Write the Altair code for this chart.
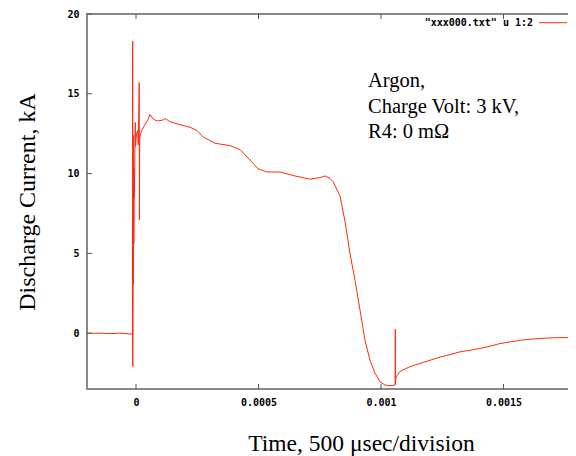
import altair as alt
import pandas as pd

# time in microseconds, current in kA
time_us = [-200, -146.9, -106.1, -65.3, -24.5, -13.9, -13.5, -13.1, -12.2, -11.0,
           -10.6, -9.4, -9.0, -7.3, -6.5, -4.1, -2.9, -1.6, 2.0, 6.9,
           9.4, 13.1, 13.9, 15.1, 20.4, 33.9, 47.8, 57.1, 65.3, 77.6,
           88.6, 109.0, 119.6, 138.8, 171.4, 220.4, 249.0, 273.5, 322.4, 383.7,
           424.5, 465.3, 498.0, 534.7, 587.8, 649.0, 710.2, 751.0, 771.4, 791.8,
           804.1, 832.7, 853.1, 873.5, 893.9, 914.3, 934.7, 955.1, 975.5, 995.9,
           1016.3, 1036.7, 1057.9, 1058.4, 1058.8, 1061.2, 1077.6, 1118.4, 1159.2, 1200.0,
           1240.8, 1281.6, 1322.4, 1363.3, 1404.1, 1444.9, 1485.7, 1526.5, 1567.3, 1608.2,
           1649.0, 1689.8, 1730.6, 1800]
current_ka = [-0.02, 0.0, -0.03, 0.0, -0.05, -0.05, 18.3, -2.1, 5.0, 12.4,
              3.1, 10.4, 5.6, 10.2, 8.5, 12.0, 13.2, 11.7, 12.5, 12.7,
              11.8, 15.7, 7.1, 12.2, 12.6, 13.0, 13.35, 13.7, 13.5, 13.35,
              13.3, 13.35, 13.45, 13.25, 13.1, 12.9, 12.7, 12.3, 11.9, 11.75,
              11.5, 10.85, 10.3, 10.1, 10.1, 9.85, 9.65, 9.75, 9.85, 9.7,
              9.5, 8.6, 7.0, 5.0, 3.3, 1.45, -0.45, -1.7, -2.5, -3.05,
              -3.25, -3.3, -3.25, 0.25, -3.2, -2.75, -2.4, -2.1, -1.9, -1.7,
              -1.5, -1.35, -1.17, -1.07, -0.96, -0.82, -0.65, -0.55, -0.45, -0.38,
              -0.33, -0.3, -0.28, -0.27]

x_ticks = [0, 0.0005, 0.001, 0.0015]
y_ticks = [0, 5, 10, 15, 20]
legend_label = '"xxx000.txt" u 1:2'
note_text = "Argon,\nCharge Volt: 3 kV,\nR4: 0 mΩ"

LINE_COLOR = "#ff2a10"
W, H = 490, 375
MONO = "DejaVu Sans Mono"
SERIF = "Liberation Serif"

df = pd.DataFrame({
    "t": [v * 1e-6 for v in time_us],
    "i": current_ka,
    "idx": list(range(len(time_us))),
})
xt = pd.DataFrame({"t": x_ticks})
yt = pd.DataFrame({"i": y_ticks})

xscale = alt.Scale(domain=[-0.0002, 0.0018], nice=False, zero=False)
yscale = alt.Scale(domain=[-3.5, 20], nice=False, zero=False)

line = alt.Chart(df).mark_line(color=LINE_COLOR, strokeWidth=1, clip=True).encode(
    x=alt.X("t:Q", scale=xscale,
            axis=alt.Axis(values=x_ticks, format=".4~f", ticks=False, domain=False,
                          grid=False, labelFont=MONO, labelFontWeight="bold",
                          labelFontSize=10, labelColor="#000", labelPadding=8,
                          title="Time, 500 μsec/division", titleFont=SERIF,
                          titleFontSize=23.5, titleFontWeight="normal", titleColor="#000",
                          titleX=274, titleY=61, titleBaseline="alphabetic",
                          titleAlign="center")),
    y=alt.Y("i:Q", scale=yscale,
            axis=alt.Axis(values=y_ticks, ticks=False, domain=False, grid=False,
                          labelFont=MONO, labelFontWeight="bold", labelFontSize=10,
                          labelColor="#000", labelPadding=8,
                          title="Discharge Current, kA", titleFont=SERIF,
                          titleFontSize=24, titleFontWeight="normal", titleColor="#000",
                          titlePadding=27)),
    order="idx:Q",
)

tick_style = dict(color="#555", strokeWidth=1)
bottom_ticks = alt.Chart(xt).mark_rule(**tick_style).encode(
    x=alt.X("t:Q", scale=xscale), y=alt.value(H), y2=alt.value(H - 5))
top_ticks = alt.Chart(xt).mark_rule(**tick_style).encode(
    x=alt.X("t:Q", scale=xscale), y=alt.value(0), y2=alt.value(5))
left_ticks = alt.Chart(yt).mark_rule(**tick_style).encode(
    y=alt.Y("i:Q", scale=yscale), x=alt.value(0), x2=alt.value(5))
right_ticks = alt.Chart(yt).mark_rule(**tick_style).encode(
    y=alt.Y("i:Q", scale=yscale), x=alt.value(W), x2=alt.value(W - 5))

legend_line = alt.Chart(pd.DataFrame({"k": [legend_label]})).mark_rule(
    color=LINE_COLOR, strokeWidth=1).encode(
    x=alt.value(452), x2=alt.value(480), y=alt.value(8.7))
legend_text = alt.Chart(pd.DataFrame({"k": [legend_label]})).mark_text(
    font=MONO, fontWeight="bold", fontSize=10, align="right", baseline="middle",
    color="#000").encode(text="k:N", x=alt.value(446), y=alt.value(9))

note = alt.Chart(pd.DataFrame({"k": [note_text]})).mark_text(
    font=SERIF, fontSize=20.5, align="left", baseline="alphabetic", lineBreak="\n",
    lineHeight=25.7, color="#000").encode(
    text="k:N", x=alt.value(281), y=alt.value(73))

chart = alt.layer(line, bottom_ticks, top_ticks, left_ticks, right_ticks,
                  legend_line, legend_text, note).properties(
    width=W, height=H,
    autosize=alt.AutoSizeParams(type="none"),
    padding={"left": 79, "top": 6, "right": -9, "bottom": 72},
    background="white",
).configure_view(stroke="#888", strokeWidth=2)

chart.save("out.html", embed_options={"renderer": "svg", "actions": False})
